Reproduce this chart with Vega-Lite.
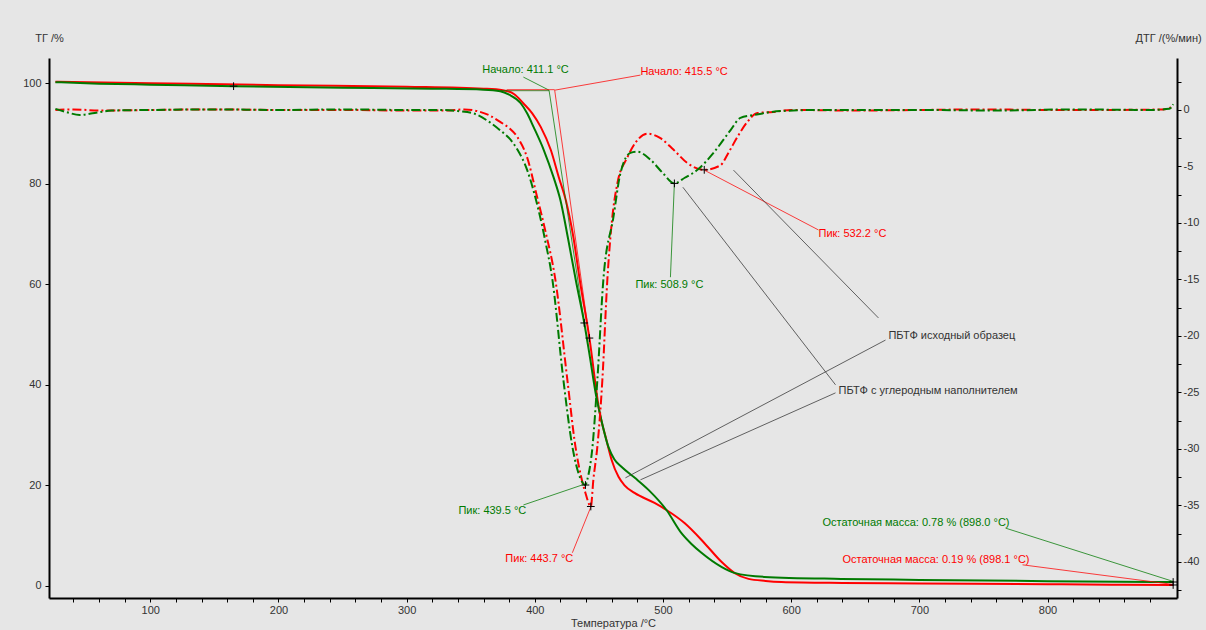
{
  "$schema": "https://vega.github.io/schema/vega-lite/v6.json",
  "width": 1128,
  "height": 540,
  "autosize": {"type": "none"},
  "padding": {"left": 49, "top": 58, "right": 29, "bottom": 32},
  "background": "#e6e6e6",
  "config": {
    "view": {"stroke": null},
    "font": "Liberation Sans",
    "axis": {
      "grid": false,
      "domainColor": "#000000",
      "domainWidth": 2,
      "tickColor": "#000000",
      "tickSize": 4,
      "labelFont": "Liberation Sans",
      "labelFontSize": 11,
      "labelColor": "#333333",
      "titleFont": "Liberation Sans",
      "titleFontSize": 11,
      "titleFontWeight": "normal",
      "titleColor": "#333333"
    }
  },
  "datasets": {
    "tg": [
      {"sample": "ПБТФ исходный образец", "T": 26, "TG": 100.3},
      {"sample": "ПБТФ исходный образец", "T": 100, "TG": 100.0},
      {"sample": "ПБТФ исходный образец", "T": 200, "TG": 99.6},
      {"sample": "ПБТФ исходный образец", "T": 300, "TG": 99.3},
      {"sample": "ПБТФ исходный образец", "T": 360, "TG": 98.9},
      {"sample": "ПБТФ исходный образец", "T": 375, "TG": 98.6},
      {"sample": "ПБТФ исходный образец", "T": 384, "TG": 97.8},
      {"sample": "ПБТФ исходный образец", "T": 391, "TG": 96.0},
      {"sample": "ПБТФ исходный образец", "T": 398, "TG": 94.0},
      {"sample": "ПБТФ исходный образец", "T": 404.6, "TG": 91.3},
      {"sample": "ПБТФ исходный образец", "T": 412.5, "TG": 86.7},
      {"sample": "ПБТФ исходный образец", "T": 418.7, "TG": 81.3},
      {"sample": "ПБТФ исходный образец", "T": 424.2, "TG": 76.7},
      {"sample": "ПБТФ исходный образец", "T": 430, "TG": 69.5},
      {"sample": "ПБТФ исходный образец", "T": 435.1, "TG": 60.8},
      {"sample": "ПБТФ исходный образец", "T": 442.6, "TG": 49.3},
      {"sample": "ПБТФ исходный образец", "T": 450.5, "TG": 34.6},
      {"sample": "ПБТФ исходный образец", "T": 455.9, "TG": 29.0},
      {"sample": "ПБТФ исходный образец", "T": 460, "TG": 25.0},
      {"sample": "ПБТФ исходный образец", "T": 465.3, "TG": 21.7},
      {"sample": "ПБТФ исходный образец", "T": 470, "TG": 20.0},
      {"sample": "ПБТФ исходный образец", "T": 477.8, "TG": 18.5},
      {"sample": "ПБТФ исходный образец", "T": 493.4, "TG": 16.5},
      {"sample": "ПБТФ исходный образец", "T": 502.7, "TG": 15.1},
      {"sample": "ПБТФ исходный образец", "T": 516.8, "TG": 12.5},
      {"sample": "ПБТФ исходный образец", "T": 532.4, "TG": 8.5},
      {"sample": "ПБТФ исходный образец", "T": 545.6, "TG": 4.8},
      {"sample": "ПБТФ исходный образец", "T": 555.7, "TG": 2.6},
      {"sample": "ПБТФ исходный образец", "T": 566.7, "TG": 1.4},
      {"sample": "ПБТФ исходный образец", "T": 580, "TG": 1.0},
      {"sample": "ПБТФ исходный образец", "T": 592.5, "TG": 0.8},
      {"sample": "ПБТФ исходный образец", "T": 640, "TG": 0.6},
      {"sample": "ПБТФ исходный образец", "T": 700, "TG": 0.5},
      {"sample": "ПБТФ исходный образец", "T": 800, "TG": 0.35},
      {"sample": "ПБТФ исходный образец", "T": 850, "TG": 0.25},
      {"sample": "ПБТФ исходный образец", "T": 898, "TG": 0.19},
      {"sample": "ПБТФ с углеродным наполнителем", "T": 26, "TG": 100.2},
      {"sample": "ПБТФ с углеродным наполнителем", "T": 60, "TG": 99.9},
      {"sample": "ПБТФ с углеродным наполнителем", "T": 100, "TG": 99.7},
      {"sample": "ПБТФ с углеродным наполнителем", "T": 165, "TG": 99.4},
      {"sample": "ПБТФ с углеродным наполнителем", "T": 250, "TG": 99.1},
      {"sample": "ПБТФ с углеродным наполнителем", "T": 320, "TG": 98.9},
      {"sample": "ПБТФ с углеродным наполнителем", "T": 360, "TG": 98.7},
      {"sample": "ПБТФ с углеродным наполнителем", "T": 373, "TG": 98.4},
      {"sample": "ПБТФ с углеродным наполнителем", "T": 380, "TG": 97.7},
      {"sample": "ПБТФ с углеродным наполнителем", "T": 389, "TG": 96.0},
      {"sample": "ПБТФ с углеродным наполнителем", "T": 394, "TG": 94.0},
      {"sample": "ПБТФ с углеродным наполнителем", "T": 399, "TG": 91.3},
      {"sample": "ПБТФ с углеродным наполнителем", "T": 407, "TG": 86.7},
      {"sample": "ПБТФ с углеродным наполнителем", "T": 414.6, "TG": 81.3},
      {"sample": "ПБТФ с углеродным наполнителем", "T": 420, "TG": 76.7},
      {"sample": "ПБТФ с углеродным наполнителем", "T": 426, "TG": 69.0},
      {"sample": "ПБТФ с углеродным наполнителем", "T": 432, "TG": 60.8},
      {"sample": "ПБТФ с углеродным наполнителем", "T": 438.6, "TG": 52.3},
      {"sample": "ПБТФ с углеродным наполнителем", "T": 443, "TG": 45.5},
      {"sample": "ПБТФ с углеродным наполнителем", "T": 448, "TG": 37.6},
      {"sample": "ПБТФ с углеродным наполнителем", "T": 450.5, "TG": 34.6},
      {"sample": "ПБТФ с углеродным наполнителем", "T": 457.5, "TG": 27.6},
      {"sample": "ПБТФ с углеродным наполнителем", "T": 462, "TG": 25.2},
      {"sample": "ПБТФ с углеродным наполнителем", "T": 467.6, "TG": 23.7},
      {"sample": "ПБТФ с углеродным наполнителем", "T": 478, "TG": 21.5},
      {"sample": "ПБТФ с углеродным наполнителем", "T": 488.7, "TG": 19.1},
      {"sample": "ПБТФ с углеродным наполнителем", "T": 502.7, "TG": 15.1},
      {"sample": "ПБТФ с углеродным наполнителем", "T": 514.4, "TG": 10.5},
      {"sample": "ПБТФ с углеродным наполнителем", "T": 522, "TG": 8.4},
      {"sample": "ПБТФ с углеродным наполнителем", "T": 530, "TG": 6.6},
      {"sample": "ПБТФ с углеродным наполнителем", "T": 545.6, "TG": 3.8},
      {"sample": "ПБТФ с углеродным наполнителем", "T": 555.7, "TG": 2.6},
      {"sample": "ПБТФ с углеродным наполнителем", "T": 579, "TG": 1.8},
      {"sample": "ПБТФ с углеродным наполнителем", "T": 639, "TG": 1.4},
      {"sample": "ПБТФ с углеродным наполнителем", "T": 700, "TG": 1.2},
      {"sample": "ПБТФ с углеродным наполнителем", "T": 800, "TG": 0.95},
      {"sample": "ПБТФ с углеродным наполнителем", "T": 898, "TG": 0.78}
    ],
    "dtg": [
      {"sample": "ПБТФ исходный образец", "T": 26, "DTG": 0},
      {"sample": "ПБТФ исходный образец", "T": 40, "DTG": 0.05},
      {"sample": "ПБТФ исходный образец", "T": 60, "DTG": -0.05},
      {"sample": "ПБТФ исходный образец", "T": 100, "DTG": 0},
      {"sample": "ПБТФ исходный образец", "T": 150, "DTG": 0.05},
      {"sample": "ПБТФ исходный образец", "T": 200, "DTG": 0},
      {"sample": "ПБТФ исходный образец", "T": 250, "DTG": 0},
      {"sample": "ПБТФ исходный образец", "T": 300, "DTG": -0.05},
      {"sample": "ПБТФ исходный образец", "T": 330, "DTG": -0.05},
      {"sample": "ПБТФ исходный образец", "T": 345, "DTG": 0.05},
      {"sample": "ПБТФ исходный образец", "T": 355, "DTG": -0.1},
      {"sample": "ПБТФ исходный образец", "T": 365, "DTG": -0.5},
      {"sample": "ПБТФ исходный образец", "T": 373, "DTG": -1.06},
      {"sample": "ПБТФ исходный образец", "T": 380, "DTG": -1.6},
      {"sample": "ПБТФ исходный образец", "T": 386.4, "DTG": -2.4},
      {"sample": "ПБТФ исходный образец", "T": 394, "DTG": -4.2},
      {"sample": "ПБТФ исходный образец", "T": 401.8, "DTG": -7.7},
      {"sample": "ПБТФ исходный образец", "T": 408, "DTG": -10.6},
      {"sample": "ПБТФ исходный образец", "T": 416, "DTG": -15.0},
      {"sample": "ПБТФ исходный образец", "T": 425.4, "DTG": -23.9},
      {"sample": "ПБТФ исходный образец", "T": 431.7, "DTG": -29.8},
      {"sample": "ПБТФ исходный образец", "T": 436, "DTG": -32.4},
      {"sample": "ПБТФ исходный образец", "T": 439.5, "DTG": -33.9},
      {"sample": "ПБТФ исходный образец", "T": 443.7, "DTG": -35.1},
      {"sample": "ПБТФ исходный образец", "T": 445.7, "DTG": -32.7},
      {"sample": "ПБТФ исходный образец", "T": 448.8, "DTG": -29.8},
      {"sample": "ПБТФ исходный образец", "T": 452.7, "DTG": -23.9},
      {"sample": "ПБТФ исходный образец", "T": 456.6, "DTG": -15.0},
      {"sample": "ПБТФ исходный образец", "T": 460, "DTG": -10.0},
      {"sample": "ПБТФ исходный образец", "T": 464.4, "DTG": -6.5},
      {"sample": "ПБТФ исходный образец", "T": 472.2, "DTG": -4.2},
      {"sample": "ПБТФ исходный образец", "T": 478.5, "DTG": -2.9},
      {"sample": "ПБТФ исходный образец", "T": 487.9, "DTG": -2.1},
      {"sample": "ПБТФ исходный образец", "T": 498, "DTG": -2.5},
      {"sample": "ПБТФ исходный образец", "T": 508.1, "DTG": -3.5},
      {"sample": "ПБТФ исходный образец", "T": 519, "DTG": -4.7},
      {"sample": "ПБТФ исходный образец", "T": 532.2, "DTG": -5.3},
      {"sample": "ПБТФ исходный образец", "T": 544.8, "DTG": -4.9},
      {"sample": "ПБТФ исходный образец", "T": 551, "DTG": -3.8},
      {"sample": "ПБТФ исходный образец", "T": 558, "DTG": -2.4},
      {"sample": "ПБТФ исходный образец", "T": 565.8, "DTG": -1.06},
      {"sample": "ПБТФ исходный образец", "T": 573.7, "DTG": -0.27},
      {"sample": "ПБТФ исходный образец", "T": 586, "DTG": -0.18},
      {"sample": "ПБТФ исходный образец", "T": 600, "DTG": 0},
      {"sample": "ПБТФ исходный образец", "T": 650, "DTG": -0.05},
      {"sample": "ПБТФ исходный образец", "T": 700, "DTG": 0},
      {"sample": "ПБТФ исходный образец", "T": 750, "DTG": 0.05},
      {"sample": "ПБТФ исходный образец", "T": 800, "DTG": 0},
      {"sample": "ПБТФ исходный образец", "T": 850, "DTG": 0},
      {"sample": "ПБТФ исходный образец", "T": 890, "DTG": 0.05},
      {"sample": "ПБТФ исходный образец", "T": 898, "DTG": 0.3},
      {"sample": "ПБТФ с углеродным наполнителем", "T": 26, "DTG": 0.1},
      {"sample": "ПБТФ с углеродным наполнителем", "T": 35, "DTG": -0.2},
      {"sample": "ПБТФ с углеродным наполнителем", "T": 45, "DTG": -0.45},
      {"sample": "ПБТФ с углеродным наполнителем", "T": 55, "DTG": -0.3},
      {"sample": "ПБТФ с углеродным наполнителем", "T": 70, "DTG": -0.05},
      {"sample": "ПБТФ с углеродным наполнителем", "T": 100, "DTG": 0},
      {"sample": "ПБТФ с углеродным наполнителем", "T": 150, "DTG": 0.05},
      {"sample": "ПБТФ с углеродным наполнителем", "T": 200, "DTG": 0},
      {"sample": "ПБТФ с углеродным наполнителем", "T": 250, "DTG": 0.05},
      {"sample": "ПБТФ с углеродным наполнителем", "T": 300, "DTG": 0},
      {"sample": "ПБТФ с углеродным наполнителем", "T": 330, "DTG": 0},
      {"sample": "ПБТФ с углеродным наполнителем", "T": 340, "DTG": -0.1},
      {"sample": "ПБТФ с углеродным наполнителем", "T": 352, "DTG": -0.3},
      {"sample": "ПБТФ с углеродным наполнителем", "T": 365, "DTG": -1.1},
      {"sample": "ПБТФ с углеродным наполнителем", "T": 373, "DTG": -1.8},
      {"sample": "ПБТФ с углеродным наполнителем", "T": 380, "DTG": -2.5},
      {"sample": "ПБТФ с углеродным наполнителем", "T": 386.4, "DTG": -3.5},
      {"sample": "ПБТФ с углеродным наполнителем", "T": 394, "DTG": -5.3},
      {"sample": "ПБТФ с углеродным наполнителем", "T": 398.9, "DTG": -7.1},
      {"sample": "ПБТФ с углеродным наполнителем", "T": 408, "DTG": -11.5},
      {"sample": "ПБТФ с углеродным наполнителем", "T": 413.7, "DTG": -15.0},
      {"sample": "ПБТФ с углеродным наполнителем", "T": 422.3, "DTG": -23.9},
      {"sample": "ПБТФ с углеродным наполнителем", "T": 429.3, "DTG": -29.8},
      {"sample": "ПБТФ с углеродным наполнителем", "T": 435.5, "DTG": -32.6},
      {"sample": "ПБТФ с углеродным наполнителем", "T": 439.5, "DTG": -33.2},
      {"sample": "ПБТФ с углеродным наполнителем", "T": 441, "DTG": -32.7},
      {"sample": "ПБТФ с углеродным наполнителем", "T": 445, "DTG": -29.8},
      {"sample": "ПБТФ с углеродным наполнителем", "T": 448.8, "DTG": -23.9},
      {"sample": "ПБТФ с углеродным наполнителем", "T": 453.5, "DTG": -15.0},
      {"sample": "ПБТФ с углеродным наполнителем", "T": 461.3, "DTG": -9.5},
      {"sample": "ПБТФ с углеродным наполнителем", "T": 466.8, "DTG": -5.6},
      {"sample": "ПБТФ с углеродным наполнителем", "T": 474.6, "DTG": -3.8},
      {"sample": "ПБТФ с углеродным наполнителем", "T": 480, "DTG": -3.7},
      {"sample": "ПБТФ с углеродным наполнителем", "T": 490.2, "DTG": -4.4},
      {"sample": "ПБТФ с углеродным наполнителем", "T": 500, "DTG": -5.6},
      {"sample": "ПБТФ с углеродным наполнителем", "T": 508.9, "DTG": -6.5},
      {"sample": "ПБТФ с углеродным наполнителем", "T": 517, "DTG": -6.0},
      {"sample": "ПБТФ с углеродным наполнителем", "T": 526.9, "DTG": -5.3},
      {"sample": "ПБТФ с углеродным наполнителем", "T": 539.4, "DTG": -3.8},
      {"sample": "ПБТФ с углеродным наполнителем", "T": 552.6, "DTG": -1.8},
      {"sample": "ПБТФ с углеродным наполнителем", "T": 560.4, "DTG": -0.7},
      {"sample": "ПБТФ с углеродным наполнителем", "T": 570.6, "DTG": -0.45},
      {"sample": "ПБТФ с углеродным наполнителем", "T": 591.6, "DTG": -0.1},
      {"sample": "ПБТФ с углеродным наполнителем", "T": 620, "DTG": 0},
      {"sample": "ПБТФ с углеродным наполнителем", "T": 700, "DTG": 0},
      {"sample": "ПБТФ с углеродным наполнителем", "T": 760, "DTG": -0.05},
      {"sample": "ПБТФ с углеродным наполнителем", "T": 820, "DTG": 0.05},
      {"sample": "ПБТФ с углеродным наполнителем", "T": 880, "DTG": 0},
      {"sample": "ПБТФ с углеродным наполнителем", "T": 895, "DTG": 0.1},
      {"sample": "ПБТФ с углеродным наполнителем", "T": 898, "DTG": 0.5}
    ],
    "leaders": [
      {"sample": "ПБТФ с углеродным наполнителем", "T": 391.1, "TG": 101.2, "T2": 411.1, "TG2": 98.6},
      {"sample": "ПБТФ исходный образец", "T": 482.4, "TG": 101.6, "T2": 415.5, "TG2": 98.6},
      {"sample": "ПБТФ с углеродным наполнителем", "T": 373, "TG": 98.5, "T2": 411.1, "TG2": 98.5},
      {"sample": "ПБТФ исходный образец", "T": 378, "TG": 98.7, "T2": 415.5, "TG2": 98.7},
      {"sample": "ПБТФ с углеродным наполнителем", "T": 411.1, "TG": 98.6, "T2": 438.6, "TG2": 52.3},
      {"sample": "ПБТФ исходный образец", "T": 415.5, "TG": 98.6, "T2": 442.6, "TG2": 49.3},
      {"sample": "ПБТФ с углеродным наполнителем", "T": 391.1, "TG": 16.1, "T2": 439.5, "TG2": 20.3},
      {"sample": "ПБТФ исходный образец", "T": 429.3, "TG": 6.6, "T2": 443.7, "TG2": 15.7},
      {"sample": "ПБТФ с углеродным наполнителем", "T": 505.8, "TG": 61.4, "T2": 508.9, "TG2": 80.1},
      {"sample": "ПБТФ исходный образец", "T": 621.3, "TG": 70.8, "T2": 532.2, "TG2": 82.7},
      {"sample": "подпись", "T": 668.1, "TG": 53.3, "T2": 555.0, "TG2": 82.7},
      {"sample": "подпись", "T": 673.6, "TG": 48.9, "T2": 470.7, "TG2": 21.5},
      {"sample": "подпись", "T": 634.6, "TG": 40.0, "T2": 515.5, "TG2": 79.3},
      {"sample": "подпись", "T": 634.6, "TG": 38.4, "T2": 482.4, "TG2": 21.1},
      {"sample": "ПБТФ с углеродным наполнителем", "T": 767.2, "TG": 11.5, "T2": 898, "TG2": 0.9},
      {"sample": "ПБТФ исходный образец", "T": 780.5, "TG": 4.2, "T2": 898, "TG2": 0.3}
    ],
    "labels": [
      {"sample": "ПБТФ с углеродным наполнителем", "T": 359, "TG": 102.6, "label": "Начало: 411.1 °C"},
      {"sample": "ПБТФ исходный образец", "T": 482.4, "TG": 102.2, "label": "Начало: 415.5 °C"},
      {"sample": "ПБТФ с углеродным наполнителем", "T": 340.4, "TG": 14.9, "label": "Пик: 439.5 °C"},
      {"sample": "ПБТФ исходный образец", "T": 377, "TG": 5.4, "label": "Пик: 443.7 °C"},
      {"sample": "ПБТФ с углеродным наполнителем", "T": 478.5, "TG": 59.8, "label": "Пик: 508.9 °C"},
      {"sample": "ПБТФ исходный образец", "T": 621.3, "TG": 70.0, "label": "Пик: 532.2 °C"},
      {"sample": "подпись", "T": 675.9, "TG": 49.7, "label": "ПБТФ исходный образец"},
      {"sample": "подпись", "T": 636.9, "TG": 38.8, "label": "ПБТФ с углеродным наполнителем"},
      {"sample": "ПБТФ с углеродным наполнителем", "T": 624.4, "TG": 12.5, "label": "Остаточная масса: 0.78 % (898.0 °C)"},
      {"sample": "ПБТФ исходный образец", "T": 640, "TG": 5.2, "label": "Остаточная масса: 0.19 % (898.1 °C)"}
    ],
    "tgMarks": [
      {"T": 165, "TG": 99.4},
      {"T": 438.6, "TG": 52.3},
      {"T": 442.6, "TG": 49.3},
      {"T": 898, "TG": 0.78},
      {"T": 898, "TG": 0.19}
    ],
    "dtgMarks": [
      {"T": 439.5, "DTG": -33.2},
      {"T": 443.7, "DTG": -35.1},
      {"T": 508.9, "DTG": -6.5},
      {"T": 532.2, "DTG": -5.3}
    ]
  },
  "encoding": {
    "x": {
      "field": "T",
      "type": "quantitative",
      "scale": {"domain": [21, 901], "nice": false, "zero": false},
      "axis": {
        "title": "Температура /°C",
        "titlePadding": 2,
        "values": [40, 60, 80, 100, 120, 140, 160, 180, 200, 220, 240, 260, 280, 300, 320, 340, 360, 380, 400, 420, 440, 460, 480, 500, 520, 540, 560, 580, 600, 620, 640, 660, 680, 700, 720, 740, 760, 780, 800, 820, 840, 860, 880],
        "labelExpr": "datum.value % 100 == 0 ? '' + datum.value : ''",
        "labelPadding": 2
      }
    }
  },
  "layer": [
    {
      "encoding": {
        "y": {
          "field": "TG",
          "type": "quantitative",
          "scale": {"domain": [-2.4, 105], "nice": false, "zero": false},
          "axis": {
            "orient": "left",
            "title": "ТГ /%",
            "titleAngle": 0,
            "titleX": 0,
            "titleY": -20,
            "titleAlign": "center",
            "titleBaseline": "middle",
            "values": [0, 20, 40, 60, 80, 100],
            "labelPadding": 4
          }
        }
      },
      "layer": [
        {
          "data": {"name": "tg"},
          "mark": {"type": "line", "strokeWidth": 2, "interpolate": "monotone"},
          "encoding": {
            "color": {"field": "sample", "type": "nominal", "legend": null,
              "scale": {"domain": ["ПБТФ исходный образец", "ПБТФ с углеродным наполнителем", "подпись"], "range": ["#ff0000", "#007a00", "#333333"]}},
            "detail": {"field": "sample"}
          }
        },
        {
          "data": {"name": "leaders"},
          "mark": {"type": "rule", "strokeWidth": 1, "opacity": 0.75},
          "encoding": {
            "x2": {"field": "T2"},
            "y2": {"field": "TG2"},
            "color": {"field": "sample", "type": "nominal", "legend": null,
              "scale": {"domain": ["ПБТФ исходный образец", "ПБТФ с углеродным наполнителем", "подпись"], "range": ["#ff0000", "#007a00", "#333333"]}}
          }
        },
        {
          "data": {"name": "labels"},
          "mark": {"type": "text", "align": "left", "baseline": "middle", "fontSize": 11, "font": "Liberation Sans"},
          "encoding": {
            "text": {"field": "label"},
            "color": {"field": "sample", "type": "nominal", "legend": null,
              "scale": {"domain": ["ПБТФ исходный образец", "ПБТФ с углеродным наполнителем", "подпись"], "range": ["#ff0000", "#007a00", "#333333"]}}
          }
        },
        {
          "data": {"name": "tgMarks"},
          "mark": {"type": "point", "shape": "M-1,0H1M0,-1V1", "filled": false, "stroke": "#000000", "strokeWidth": 1, "size": 60, "opacity": 1}
        }
      ]
    },
    {
      "encoding": {
        "y": {
          "field": "DTG",
          "type": "quantitative",
          "scale": {"domain": [-43.2, 4.6], "nice": false, "zero": false},
          "axis": {
            "orient": "right",
            "title": "ДТГ /(%/мин)",
            "titleAngle": 0,
            "titleX": -42,
            "titleY": -20,
            "titleAlign": "left",
            "titleBaseline": "middle",
            "values": [-42.5, -40, -37.5, -35, -32.5, -30, -27.5, -25, -22.5, -20, -17.5, -15, -12.5, -10, -7.5, -5, -2.5, 0, 2.5],
            "labelExpr": "datum.value % 5 == 0 ? '' + datum.value : ''",
            "labelPadding": 2
          }
        }
      },
      "layer": [
        {
          "data": {"name": "dtg"},
          "mark": {"type": "line", "strokeWidth": 2, "interpolate": "monotone", "strokeDash": [9, 3, 2, 3]},
          "encoding": {
            "color": {"field": "sample", "type": "nominal", "legend": null,
              "scale": {"domain": ["ПБТФ исходный образец", "ПБТФ с углеродным наполнителем", "подпись"], "range": ["#ff0000", "#007a00", "#333333"]}},
            "detail": {"field": "sample"}
          }
        },
        {
          "data": {"name": "dtgMarks"},
          "mark": {"type": "point", "shape": "M-1,0H1M0,-1V1", "filled": false, "stroke": "#000000", "strokeWidth": 1, "size": 60, "opacity": 1}
        }
      ]
    }
  ],
  "resolve": {"scale": {"y": "independent"}}
}
